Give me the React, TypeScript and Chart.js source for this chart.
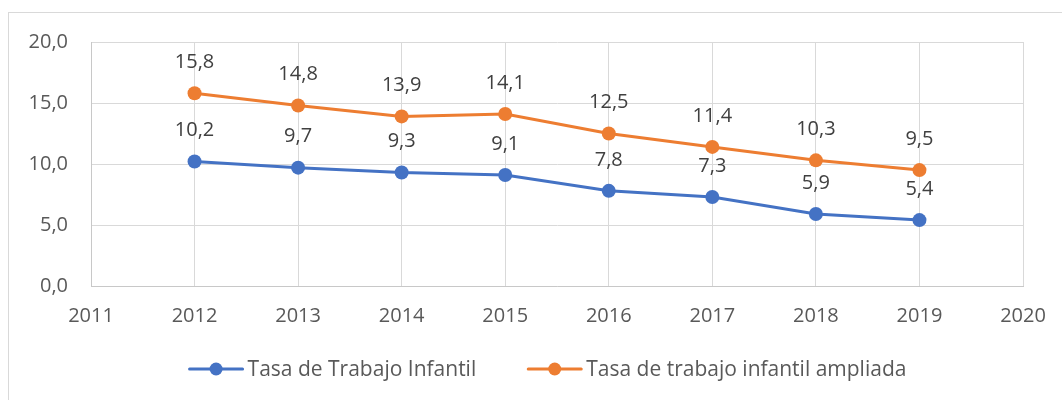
import React, { useEffect, useRef } from "react";
import { Chart, registerables } from "chart.js";

Chart.register(...registerables);

const years = [2012, 2013, 2014, 2015, 2016, 2017, 2018, 2019];
const tasaInfantil = [10.2, 9.7, 9.3, 9.1, 7.8, 7.3, 5.9, 5.4];
const tasaAmpliada = [15.8, 14.8, 13.9, 14.1, 12.5, 11.4, 10.3, 9.5];
const seriesNames = ["Tasa de Trabajo Infantil", "Tasa de trabajo infantil ampliada"];
const seriesColors = ["#4472C4", "#ED7D31"];
const xMin = 2011;
const xMax = 2020;
const yMin = 0;
const yMax = 20;
const yStep = 5;

const FONT = "'Open Sans', Lato, sans-serif";
const FONT_SIZE = 20;
const LEGEND_FONT_SIZE = 21;

const fmt = (v: number) => v.toFixed(1).replace(".", ",");

const dataLabelPlugin = {
  id: "dataLabels",
  afterDatasetsDraw(chart: any) {
    const ctx = chart.ctx;
    ctx.save();
    ctx.font = `${FONT_SIZE}px ${FONT}`;
    ctx.fillStyle = "#404040";
    ctx.textAlign = "center";
    ctx.textBaseline = "middle";
    chart.data.datasets.forEach((ds: any, i: number) => {
      const meta = chart.getDatasetMeta(i);
      meta.data.forEach((pt: any, j: number) => {
        const v = ds.data[j].y;
        ctx.fillText(fmt(v), pt.x, pt.y - 31);
      });
    });
    ctx.restore();
  },
};

const legendPlugin = {
  id: "customLegend",
  afterDraw(chart: any) {
    const ctx = chart.ctx;
    const area = chart.chartArea;
    ctx.save();
    ctx.font = `${LEGEND_FONT_SIZE}px ${FONT}`;
    const lineW = 53;
    const textGap = 5;
    const itemGap = 52;
    const widths = chart.data.datasets.map((ds: any) => ctx.measureText(ds.label).width);
    const total = widths.reduce((a: number, w: number) => a + lineW + textGap + w, 0) + itemGap * (widths.length - 1);
    const cx = (area.left + area.right) / 2 - 9;
    const y = area.bottom + 83;
    let x = cx - total / 2;
    chart.data.datasets.forEach((ds: any, i: number) => {
      ctx.strokeStyle = ds.borderColor;
      ctx.lineWidth = 3;
      ctx.lineCap = "round";
      ctx.beginPath();
      ctx.moveTo(x, y);
      ctx.lineTo(x + lineW, y);
      ctx.stroke();
      ctx.fillStyle = ds.borderColor;
      ctx.beginPath();
      ctx.arc(x + lineW / 2, y, 6.5, 0, Math.PI * 2);
      ctx.fill();
      ctx.fillStyle = "#595959";
      ctx.textAlign = "left";
      ctx.textBaseline = "middle";
      ctx.fillText(ds.label, x + lineW + textGap, y + 1);
      x += lineW + textGap + widths[i] + itemGap;
    });
    ctx.restore();
  },
};

export default function App() {
  const ref = useRef<HTMLCanvasElement | null>(null);
  useEffect(() => {
    if (!ref.current) return;
    const mk = (vals: number[], i: number) => ({
      label: seriesNames[i],
      data: years.map((yr, k) => ({ x: yr, y: vals[k] })),
      borderColor: seriesColors[i],
      backgroundColor: seriesColors[i],
      borderWidth: 3,
      pointRadius: 7,
      pointBorderWidth: 0,
      pointBackgroundColor: seriesColors[i],
      tension: 0,
    });
    const chart = new Chart(ref.current, {
      type: "line",
      data: { datasets: [mk(tasaInfantil, 0), mk(tasaAmpliada, 1)] },
      options: {
        animation: false,
        responsive: false,
        maintainAspectRatio: false,
        layout: { padding: { left: 0, top: 29, right: 39, bottom: 64 } },
        plugins: { legend: { display: false }, tooltip: { enabled: false } },
        scales: {
          x: {
            type: "linear",
            min: xMin,
            max: xMax,
            grid: { color: "#D9D9D9", drawTicks: false },
            border: { color: "#C8C8C8" },
            ticks: {
              stepSize: 1,
              padding: 18,
              color: "#595959",
              font: { family: FONT, size: FONT_SIZE },
              callback: (v: any) => String(v),
            },
            afterFit: (s: any) => {
              s.height = 50;
              s.paddingLeft = 0;
              s.paddingRight = 0;
            },
          },
          y: {
            min: yMin,
            max: yMax,
            grid: { color: "#D9D9D9", drawTicks: false },
            border: { color: "#C8C8C8" },
            ticks: {
              stepSize: yStep,
              padding: 23,
              color: "#595959",
              font: { family: FONT, size: FONT_SIZE },
              callback: (v: any) => fmt(Number(v)),
            },
            afterFit: (s: any) => {
              s.width = 82;
              s.paddingTop = 0;
              s.paddingBottom = 0;
            },
          },
        },
      },
      plugins: [dataLabelPlugin, legendPlugin],
    });
    return () => chart.destroy();
  }, []);
  return (
    <div
      style={{
        position: "fixed",
        left: 8,
        top: 12,
        width: 1054,
        height: 388,
        borderTop: "1px solid #D9D9D9",
        borderLeft: "1px solid #D9D9D9",
        background: "#fff",
      }}
    >
      <canvas ref={ref} width={1053} height={387} style={{ display: "block" }} />
    </div>
  );
}
